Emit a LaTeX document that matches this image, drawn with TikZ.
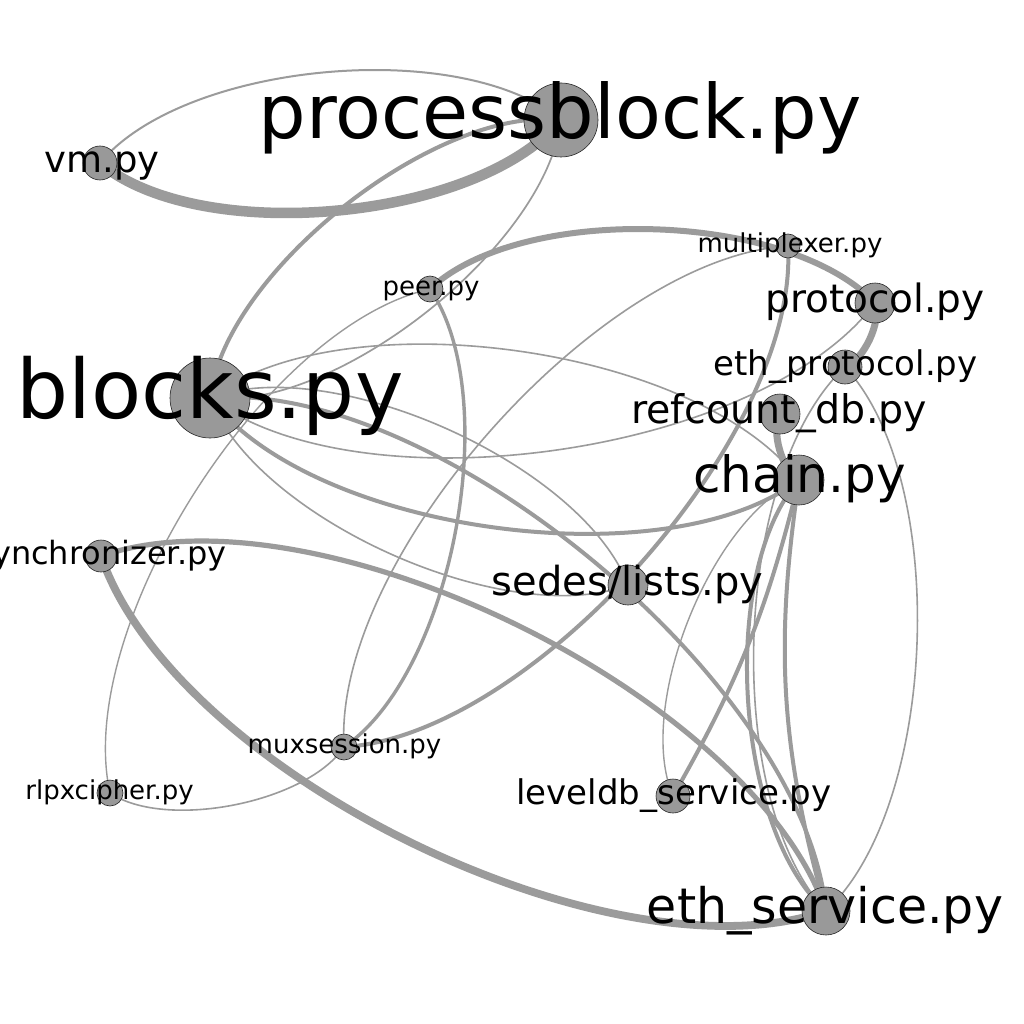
\documentclass[tikz,border=0pt]{standalone}
\usepackage{fontspec}
\setmainfont{DejaVu Sans}
\definecolor{edgegray}{RGB}{155,155,155}
\definecolor{nodegray}{RGB}{153,153,153}
\begin{document}
\begin{tikzpicture}[x=1pt,y=1pt,
  edge/.style={draw=edgegray, line cap=round},
  g/.style={bend left=45, looseness=0.7224},
  vert/.style={circle, fill=nodegray, draw=black!85, line width=0.6pt, inner sep=0pt},
  lab/.style={anchor=base, text=black, inner sep=0pt}]
\useasboundingbox (0,0) rectangle (1024,-1024);
\fill[white] (0,0) rectangle (1024,-1024);
% centres
\coordinate (pb) at (561,-120);
\coordinate (vm) at (100,-163);
\coordinate (peer) at (430,-289);
\coordinate (mux) at (788,-246);
\coordinate (prot) at (875,-303);
\coordinate (ethp) at (845,-367);
\coordinate (ref) at (780,-414);
\coordinate (bl) at (210,-398);
\coordinate (ch) at (799,-480);
\coordinate (syn) at (101,-556);
\coordinate (sed) at (628,-585);
\coordinate (muxs) at (344,-747);
\coordinate (rlpx) at (110,-793);
\coordinate (lvl) at (673,-796);
\coordinate (eths) at (826,-911);
% edges
\draw[edge, line width=2] (vm) to[g] (pb);
\draw[edge, line width=10.5] (pb) to[g] (vm);
\draw[edge, line width=4] (bl) to[g] (pb);
\draw[edge, line width=1.7] (pb) to[g] (bl);
\draw[edge, line width=6] (peer) to[g] (prot);
\draw[edge, line width=7] (prot) to[g] (ethp);
\draw[edge, line width=1.6] (muxs) to[g] (mux);
\draw[edge, line width=4] (mux) to[g] (muxs);
\draw[edge, line width=4] (bl) to[g] (eths);
\draw[edge, line width=5.2] (syn) to[g] (eths);
\draw[edge, line width=7.8] (eths) to[g] (syn);
\draw[edge, line width=1.6] (bl) to[g] (ch);
\draw[edge, line width=4] (ch) to[g] (bl);
\draw[edge, line width=1.6] (prot) to[g] (bl);
\draw[edge, line width=1.6] (bl) to[g] (sed);
\draw[edge, line width=1.6] (sed) to[g] (bl);
\draw[edge, line width=1.4] (rlpx) to[g] (peer);
\draw[edge, line width=3.4] (peer) to[g] (muxs);
\draw[edge, line width=1.6] (muxs) to[g] (rlpx);
\draw[edge, line width=7] (ch) to[g] (ref);
\draw[edge, line width=1.6] (eths) to[g] (ethp);
\draw[edge, line width=1.6] (ethp) to[g] (eths);
\draw[edge, line width=1.4] (lvl) to[g] (ch);
\draw[edge, line width=4] (ch) to[bend left=8] (lvl);
\draw[edge, line width=4] (eths) to[g] (ch);
\draw[edge, line width=4] (ch) to[bend right=12] (eths);
% vertices
\node[vert, minimum size=74pt] (pbn) at (pb) {};
\node[vert, minimum size=34pt] (vmn) at (vm) {};
\node[vert, minimum size=26pt] (peern) at (peer) {};
\node[vert, minimum size=24pt] (muxn) at (mux) {};
\node[vert, minimum size=40pt] (protn) at (prot) {};
\node[vert, minimum size=34pt] (ethpn) at (ethp) {};
\node[vert, minimum size=40pt] (refn) at (ref) {};
\node[vert, minimum size=80pt] (bln) at (bl) {};
\node[vert, minimum size=50pt] (chn) at (ch) {};
\node[vert, minimum size=32pt] (synn) at (syn) {};
\node[vert, minimum size=40pt] (sedn) at (sed) {};
\node[vert, minimum size=26pt] (muxsn) at (muxs) {};
\node[vert, minimum size=26pt] (rlpxn) at (rlpx) {};
\node[vert, minimum size=34pt] (lvln) at (lvl) {};
\node[vert, minimum size=48pt] (ethsn) at (eths) {};
% labels
\node[lab, font=\fontsize{75}{75}\selectfont] (pbt) at (560,-138.75) {processblock.py};
\node[lab, font=\fontsize{37}{37}\selectfont] (vmt) at (102,-172.25) {vm.py};
\node[lab, font=\fontsize{26}{26}\selectfont] (peert) at (431,-295.5) {peer.py};
\node[lab, font=\fontsize{26}{26}\selectfont] (muxt) at (790,-252.5) {multiplexer.py};
\node[lab, font=\fontsize{39}{39}\selectfont] (prott) at (875,-312.75) {protocol.py};
\node[lab, font=\fontsize{34}{34}\selectfont] (ethpt) at (845.5,-375.5) {eth\_protocol.py};
\node[lab, font=\fontsize{39.5}{39.5}\selectfont] (reft) at (779,-423.9) {refcount\_db.py};
\node[lab, font=\fontsize{82}{82}\selectfont] (blt) at (210,-418.5) {blocks.py};
\node[lab, font=\fontsize{50}{50}\selectfont] (cht) at (799.5,-492.5) {chain.py};
\node[lab, font=\fontsize{32}{32}\selectfont] (synt) at (101,-564) {synchronizer.py};
\node[lab, font=\fontsize{40}{40}\selectfont] (sedt) at (627.5,-595) {sedes/lists.py};
\node[lab, font=\fontsize{26}{26}\selectfont] (muxst) at (344.5,-753.5) {muxsession.py};
\node[lab, font=\fontsize{26}{26}\selectfont] (rlpxt) at (109.5,-799.5) {rlpxcipher.py};
\node[lab, font=\fontsize{34}{34}\selectfont] (lvlt) at (674,-804.5) {leveldb\_service.py};
\node[lab, font=\fontsize{49}{49}\selectfont] (ethst) at (825,-923.25) {eth\_service.py};
\end{tikzpicture}
\end{document}
